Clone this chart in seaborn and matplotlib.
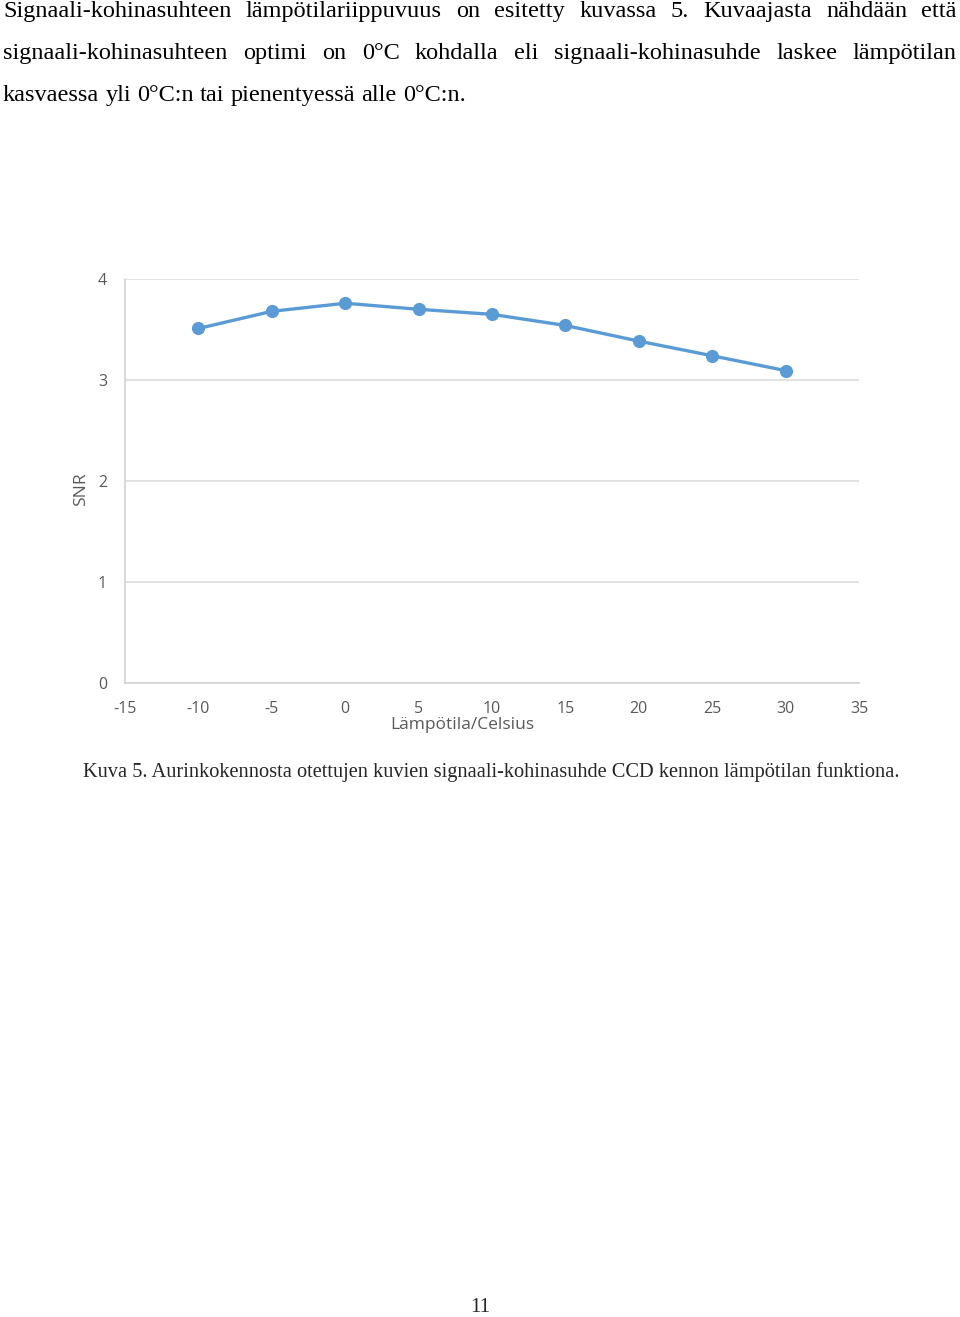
import numpy as np
import pandas as pd
import matplotlib
matplotlib.use("Agg")
import matplotlib.pyplot as plt
import seaborn as sns

# ---- data ----
temperature = [-10, -5, 0, 5, 10, 15, 20, 25, 30]
snr = [3.51, 3.68, 3.76, 3.70, 3.65, 3.54, 3.385, 3.24, 3.093]
x_ticks = [-15, -10, -5, 0, 5, 10, 15, 20, 25, 30, 35]
y_ticks = [0, 1, 2, 3, 4]

body_lines = [
    "Signaali-kohinasuhteen lämpötilariippuvuus on esitetty kuvassa 5. Kuvaajasta nähdään että",
    "signaali-kohinasuhteen optimi on 0°C kohdalla eli signaali-kohinasuhde laskee lämpötilan",
    "kasvaessa yli 0°C:n tai pienentyessä alle 0°C:n.",
]
caption = "Kuva 5. Aurinkokennosta otettujen kuvien signaali-kohinasuhde CCD kennon lämpötilan funktiona."
page_number = "11"
x_label = "Lämpötila/Celsius"
y_label = "SNR"

sns.set_theme(style="white")
plt.rcParams['font.family'] = ['Open Sans', 'DejaVu Sans']

W, H = 960, 1317
fig = plt.figure(figsize=(W / 100, H / 100), dpi=100)
fig.patch.set_facecolor('white')

ax = fig.add_axes([125 / W, 1 - 683 / H, 734 / W, 404 / H])
df = pd.DataFrame({"Temp": temperature, "SNR": snr})
sns.lineplot(data=df, x="Temp", y="SNR", ax=ax, color='#5B9BD5', linewidth=2.4,
             marker='o', markersize=9.5, markeredgewidth=0, markerfacecolor='#5B9BD5')
ax.set_xlim(-15, 35)
ax.set_ylim(0, 4)
ax.set_xticks(x_ticks)
ax.set_yticks(y_ticks)
ax.set_xticklabels([str(v) for v in x_ticks])
ax.set_yticklabels([str(v) for v in y_ticks])
ax.yaxis.grid(True, color='#D9D9D9', lw=1.1)
ax.xaxis.grid(False)
for s in ['top', 'right']:
    ax.spines[s].set_visible(False)
for s in ['left', 'bottom']:
    ax.spines[s].set_color('#D0D0D0')
    ax.spines[s].set_linewidth(1.1)
ax.tick_params(axis='both', length=0, labelsize=11.5, labelcolor='#595959')
ax.tick_params(axis='x', pad=13)
ax.tick_params(axis='y', pad=13)
ax.set_xlabel('')
ax.set_ylabel('')
ax.set_facecolor('white')

fig.text(462 / W, 1 - 725 / H, x_label, ha='center', va='center', fontsize=12.5, color='#595959')
fig.text(81 / W, 1 - 489 / H, y_label, ha='center', va='center', rotation=90, fontsize=12.5, color='#595959')

renderer = fig.canvas.get_renderer()
serif = ['Liberation Serif', 'DejaVu Serif']


def place_line(line, ybase, x0, x1, fs, justify=True):
    words = line.split(' ')
    texts = [fig.text(0, 1 - ybase / H, w, fontsize=fs, family=serif, va='baseline', ha='left', color='black')
             for w in words]
    widths = [t.get_window_extent(renderer).width for t in texts]
    if justify and len(words) > 1:
        gap = (x1 - x0 - sum(widths)) / (len(words) - 1)
    else:
        sp = fig.text(0, 0, 'a a', fontsize=fs, family=serif)
        sp2 = fig.text(0, 0, 'aa', fontsize=fs, family=serif)
        gap = sp.get_window_extent(renderer).width - sp2.get_window_extent(renderer).width
        sp.remove(); sp2.remove()
    x = x0
    for t, w in zip(texts, widths):
        t.set_x(x / W)
        x += w + gap


body_fs = 17.5
place_line(body_lines[0], 17, 3, 957, body_fs)
place_line(body_lines[1], 59, 3, 957, body_fs)
place_line(body_lines[2], 101, 3, 957, body_fs, justify=False)

cap = fig.text(491 / W, 1 - 772 / H, caption, fontsize=14, family=serif, ha='center', va='center')
cw = cap.get_window_extent(renderer).width
cap.set_fontsize(14 * 818 / cw)

fig.text(480 / W, 1 - 1308 / H, page_number, fontsize=15, family=serif, ha='center', va='center')

fig.savefig('out.png', dpi=100, facecolor='white')
